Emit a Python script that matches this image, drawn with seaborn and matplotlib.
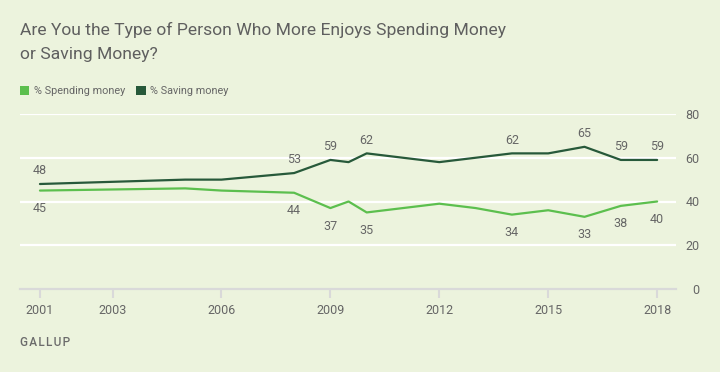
import pandas as pd
import seaborn as sns
import matplotlib.pyplot as plt
from matplotlib.patches import Patch

# Gallup: spending vs saving money
years = [2001, 2005, 2006, 2008, 2009, 2009.5, 2010, 2012, 2013, 2014, 2015, 2016, 2017, 2018]
spending = [45, 46, 45, 44, 37, 40, 35, 39, 37, 34, 36, 33, 38, 40]
saving = [48, 50, 50, 53, 59, 58, 62, 58, 60, 62, 62, 65, 59, 59]
label_years = [2001, 2008, 2009, 2010, 2014, 2016, 2017, 2018]
tick_years = [2001, 2003, 2006, 2009, 2012, 2015, 2018]
y_ticks = [0, 20, 40, 60, 80]

series_names = ['% Spending money', '% Saving money']
title_lines = ['Are You the Type of Person Who More Enjoys Spending Money', 'or Saving Money?']
colors = ['#5cbf4e', '#27593a']
bg = '#ecf3dd'
grey = '#666666'

sns.set_style('white')
plt.rcParams['font.family'] = ['Roboto', 'DejaVu Sans']

df = pd.DataFrame({'Year': years * 2,
                   'Value': spending + saving,
                   'Series': [series_names[0]] * len(years) + [series_names[1]] * len(years)})

fig = plt.figure(figsize=(7.2, 3.72), dpi=100, facecolor=bg)
ax = fig.add_axes([20 / 720, 1 - 289 / 372, 656 / 720, 175 / 372])
ax.set_facecolor(bg)

sns.lineplot(data=df, x='Year', y='Value', hue='Series', palette=colors,
             linewidth=1.6, ax=ax, legend=False)

ax.set_xlim(2000.45, 2018.52)
ax.set_ylim(0, 80)
ax.set_yticks(y_ticks)
ax.set_xticks(tick_years)
ax.set_xticklabels([str(y) for y in tick_years])
ax.set_xlabel('')
ax.set_ylabel('')
for y in y_ticks[1:]:
    ax.axhline(y, color='white', linewidth=1.6, zorder=0)

for s in ['top', 'left', 'right']:
    ax.spines[s].set_visible(False)
ax.spines['bottom'].set_color('#d9d9d9')
ax.spines['bottom'].set_linewidth(1.6)
ax.spines['bottom'].set_zorder(0)

ax.yaxis.tick_right()
ax.tick_params(axis='y', length=0, pad=17, labelsize=9, labelcolor=grey)
for t in ax.get_yticklabels():
    t.set_horizontalalignment('right')
ax.tick_params(axis='x', bottom=True, direction='out', length=6.5, width=1.5,
               color='#d9d9d9', pad=4.5, labelsize=9, labelcolor=grey)

# value labels
for yr in label_years:
    i = years.index(yr)
    ax.annotate(str(saving[i]), (yr, saving[i]), xytext=(0, 9.5), textcoords='offset points',
                ha='center', va='center', fontsize=9, color=grey)
    ax.annotate(str(spending[i]), (yr, spending[i]), xytext=(0, -13), textcoords='offset points',
                ha='center', va='center', fontsize=9, color=grey)

fig.text(20 / 720, 1 - 34.5 / 372, title_lines[0], fontsize=12.6, color='#5f5f5f',
         ha='left', va='baseline')
fig.text(20 / 720, 1 - 59.5 / 372, title_lines[1], fontsize=12.6, color='#5f5f5f',
         ha='left', va='baseline')

handles = [Patch(facecolor=c, edgecolor='none', label=n) for c, n in zip(colors, series_names)]
fig.legend(handles=handles, loc='center left', bbox_to_anchor=(12 / 720, 1 - 91 / 372),
           ncol=2, frameon=False, fontsize=7.8, handlelength=0.9, handleheight=0.9,
           handletextpad=0.4, columnspacing=1.0, labelcolor=grey, borderpad=0.2)

fig.text(20 / 720, 1 - 342 / 372, '\u200a'.join('GALLUP'), fontsize=8.5,
         color='#6b6b6b', ha='left', va='center', fontweight='medium')

fig.savefig('out.png', dpi=100, facecolor=bg)
